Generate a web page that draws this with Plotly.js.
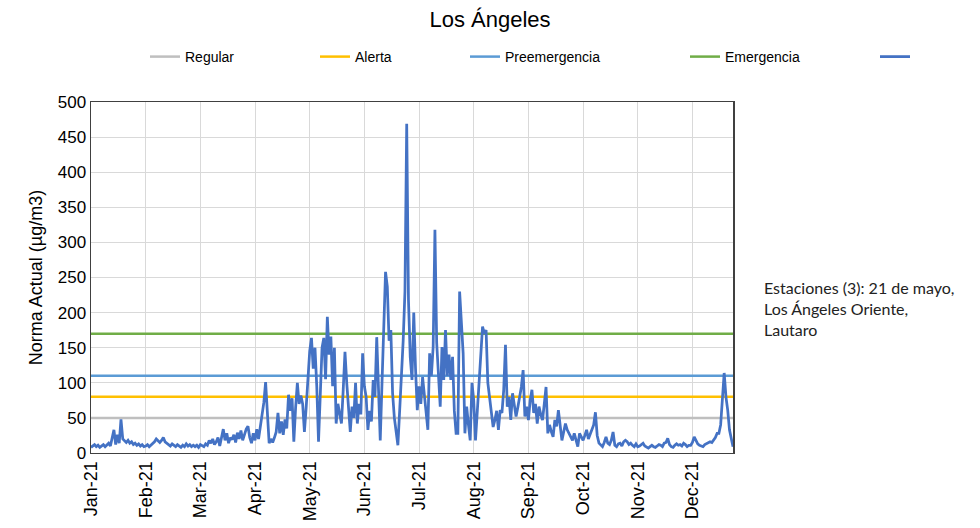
<!DOCTYPE html>
<html>
<head>
<meta charset="utf-8">
<script src="https://cdn.plot.ly/plotly-3.0.1.min.js"></script>
<style>html,body{margin:0;padding:0;background:#fff;}#chart{width:980px;height:528px;}</style>
</head>
<body>
<div id="chart"></div>
<script>
// Daily values (µg/m3), one array per calendar month of 2021
const jan = [8,10,12,9,11,8,10,12,9,11,14,10,20,33,12,26,14,48,20,17,15,18,14,16,12,14,11,13,10,12,9];
const feb = [10,12,9,11,14,16,20,17,15,18,22,16,14,12,10,13,11,9,12,10,8,11,9,13,10,12,9,11];
const mar = [9,11,8,12,10,9,13,11,18,14,20,12,16,22,10,24,34,18,28,14,22,19,26,15,29,20,32,18,26,34,38];
const apr = [22,14,28,18,34,20,38,55,72,101,48,14,20,15,22,30,57,28,45,26,48,35,83,60,78,16,64,100,70,82];
const may = [70,30,65,104,145,164,120,150,95,16,85,150,164,105,194,140,166,95,150,42,70,55,42,90,144,100,70,30,66,50,100];
const jun = [42,70,55,142,95,80,33,60,45,104,80,165,90,18,100,179,258,237,160,175,85,50,30,11,60,108,160,230,469,218];
const jul = [137,104,200,120,61,95,70,108,80,52,33,142,110,151,318,157,100,66,151,104,175,110,140,104,137,60,28,28,230,180,142];
const aug = [28,66,40,18,100,75,18,60,100,128,180,170,175,100,80,55,37,47,60,33,61,57,90,154,66,80,47,85,70,52,65];
const sep = [80,94,118,52,66,47,75,90,57,70,42,66,55,47,70,94,28,40,30,23,47,38,61,35,18,30,42,33,28,22];
const oct = [18,28,20,9,28,22,18,25,33,20,26,33,40,58,25,14,12,9,15,23,14,12,18,30,11,9,13,14,10,16,18];
const nov = [16,12,14,11,9,13,9,10,12,14,10,8,7,9,11,9,8,10,12,11,9,14,15,21,12,9,8,11,13,11];
const dec = [12,10,14,12,9,11,11,15,23,18,13,11,10,9,12,13,14,16,15,18,22,28,28,40,75,114,80,61,33,18,9];

// Threshold levels (µg/m3)
const levelNames = ["Regular", "Alerta", "Preemergencia", "Emergencia"];
const levelValues = [50, 80, 110, 170];
const levelColors = ["#BFBFBF", "#FFC000", "#5B9BD5", "#70AD47"];

const months = [jan, feb, mar, apr, may, jun, jul, aug, sep, oct, nov, dec];
const dates = [], values = [];
months.forEach((arr, m) => {
  arr.forEach((v, i) => {
    const mm = String(m + 1).padStart(2, "0");
    const dd = String(i + 1).padStart(2, "0");
    dates.push(`2021-${mm}-${dd}`);
    values.push(v);
  });
});
const xStart = dates[0], xEnd = dates[dates.length - 1];

const legendX = [145, 315, 465, 685, 875];
const legendNames = ["legend", "legend2", "legend3", "legend4", "legend5"];
const traces = [];
levelNames.forEach((name, i) => {
  traces.push({
    x: [xStart, xEnd], y: [levelValues[i], levelValues[i]],
    type: "scatter", mode: "lines", name: name,
    line: {color: levelColors[i], width: 2.5},
    legend: legendNames[i], showlegend: true,
    hoverinfo: "skip"
  });
});
traces.push({
  x: dates, y: values, type: "scatter", mode: "lines", name: " ",
  line: {color: "#4472C4", width: 2.75},
  legend: "legend5", showlegend: true
});

const layout = {
  width: 980, height: 528,
  showlegend: true,
  margin: {l: 91, r: 247, t: 102, b: 75},
  paper_bgcolor: "#fff", plot_bgcolor: "#fff",
  font: {family: "Liberation Sans, Arial, sans-serif", color: "#000"},
  title: {text: "Los Ángeles", x: 0.5, xanchor: "center", y: 1 - 19/528, yanchor: "middle",
          xref: "container", yref: "container", font: {size: 22, color: "#000"}},
  xaxis: {
    type: "date", range: [xStart, xEnd],
    tick0: xStart, dtick: 31 * 86400000, tickformat: "%b-%y", tickangle: -90,
    showgrid: true, gridcolor: "#D9D9D9", gridwidth: 1,
    showline: true, linecolor: "#404040", linewidth: 1, mirror: true,
    ticks: "", tickfont: {size: 18, color: "#000"}, zeroline: false
  },
  yaxis: {
    range: [0, 500], dtick: 50, tick0: 0,
    showgrid: true, gridcolor: "#D9D9D9", gridwidth: 1,
    showline: true, linecolor: "#404040", linewidth: 1.5, mirror: true,
    ticks: "", tickfont: {size: 17, color: "#000"}, zeroline: false,
    title: {text: "Norma Actual (µg/m3)", font: {size: 18, color: "#000"}, standoff: 10}
  },
  annotations: [{
    xref: "paper", yref: "paper", x: (762 - 91) / 642, y: (453 - 276) / 351,
    xanchor: "left", yanchor: "top", align: "left", showarrow: false,
    text: "Estaciones (3): 21 de mayo,<br>Los Ángeles Oriente,<br>Lautaro",
    font: {family: "Lato, Open Sans, sans-serif", size: 16, color: "#222"}
  }]
};
legendNames.forEach((ln, i) => {
  layout[ln] = {
    xref: "container", yref: "container",
    x: legendX[i] / 980, y: 1 - 57/528, xanchor: "left", yanchor: "middle",
    orientation: "h", bgcolor: "rgba(0,0,0,0)", borderwidth: 0,
    font: {size: 14, color: "#000"}, itemwidth: 30, tracegroupgap: 0
  };
});

Plotly.newPlot("chart", traces, layout, {staticPlot: true, displayModeBar: false});
</script>
</body>
</html>
